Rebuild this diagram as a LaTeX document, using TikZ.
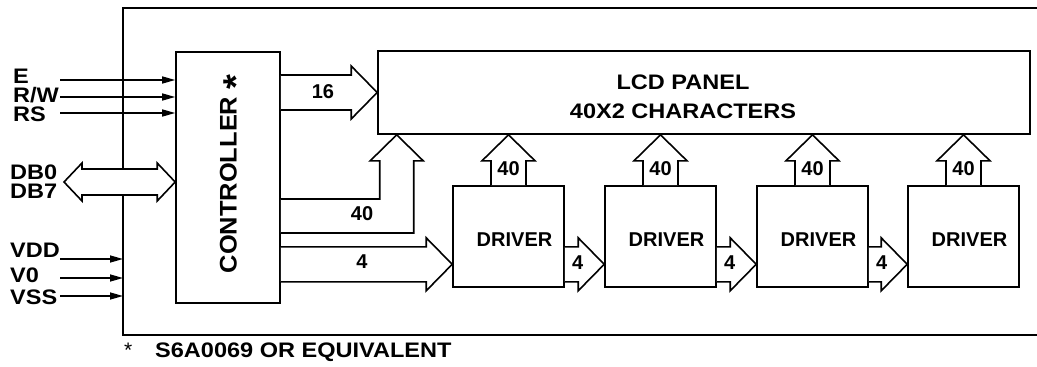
\documentclass[tikz,border=0pt]{standalone}
\usepackage{fontspec}
\setmainfont{Liberation Sans}
\usepackage{graphicx}
\usetikzlibrary{calc,arrows.meta}
\newcommand\hwide[1]{\scalebox{1.12}[1]{#1}}
\def\sw{17.5}\def\hw{26.5}\def\hl{26}
% right-pointing fat arrow: #1 start (x used), #2 apex
\newcommand\rfat[2]{\draw[fat] ($(#1 |- #2)+(0,-\sw)$) -- ($(#2)+(-\hl,-\sw)$) -- ($(#2)+(-\hl,-\hw)$) -- (#2) -- ($(#2)+(-\hl,\hw)$) -- ($(#2)+(-\hl,\sw)$) -- ($(#1 |- #2)+(0,\sw)$);}
% up-pointing fat arrow: #1 start (y used), #2 apex
\newcommand\ufat[2]{\draw[fat] ($(#2 |- #1)+(-\sw,0)$) -- ($(#2)+(-\sw,\hl)$) -- ($(#2)+(-\hw,\hl)$) -- (#2) -- ($(#2)+(\hw,\hl)$) -- ($(#2)+(\sw,\hl)$) -- ($(#2 |- #1)+(\sw,0)$);}
\begin{document}
\begin{tikzpicture}[x=1pt,y=-1pt,line join=miter,
  box/.style={draw, line width=1.6pt, inner sep=0pt, rectangle},
  fat/.style={draw, line width=1.6pt, fill=white, line join=miter},
  inarr/.style={line width=1.5pt, -{Triangle[length=13pt,width=7pt]}},
  lab/.style={inner sep=0pt, anchor=base west, font=\fontsize{21}{25}\selectfont\bfseries},
  num/.style={inner sep=0pt, font=\fontsize{20}{24}\selectfont\bfseries},
  drv/.style={box, minimum width=111pt, minimum height=101pt,
    label={[num, shift={(6,3.5)}]center:DRIVER}},
]
\useasboundingbox (0,0) rectangle (1037,367);
\clip (0,0) rectangle (1037,367);
% outer frame
\draw[line width=1.6pt] (123,8) rectangle (1060,335);
\coordinate (oleft) at (123,8);
% main blocks
\node[box, minimum width=104pt, minimum height=251pt] (ctrl) at (228,177.5) {};
\node[inner sep=0pt, rotate=90, font=\fontsize{24}{28}\selectfont\bfseries, anchor=base] (ctrltext) at (236.5,174) {\scalebox{1.06}[1]{CONTROLLER \raisebox{-0.5em}{\scalebox{1.5}{*}}}};
\node[box, minimum width=652pt, minimum height=83pt] (lcd) at (704,92.5) {};
\node[inner sep=0pt, align=center, font=\fontsize{21}{29}\selectfont\bfseries] (lcdtext) at (683,96.5) {\hwide{LCD PANEL}\\\hwide{40X2 CHARACTERS}};
\node[drv] (d1) at (508.5,236.5) {};
\node[drv] (d2) at (660.5,236.5) {};
\node[drv] (d3) at (812.5,236.5) {};
\node[drv] (d4) at (963.5,236.5) {};
% 16 bus
\coordinate (a16) at (lcd.west);
\rfat{ctrl.east}{a16}
\node[num] (n16) at (323,92) {16};
% 40 bus (L-shaped)
\coordinate (a40) at ($(lcd.south west)+(19.5,0)$);
\coordinate (b40) at ($(ctrl.east)+(0,38.5)$);
\draw[fat] ($(b40)+(0,-17)$) -- ($(a40 |- b40)+(-17,-17)$) -- ($(a40)+(-17,26)$) -- ($(a40)+(-26.5,26)$) -- (a40) -- ($(a40)+(26.5,26)$) -- ($(a40)+(17,26)$) -- ($(a40 |- b40)+(17,17)$) -- ($(b40)+(0,17)$);
\node[num] (n40) at (362,214) {40};
% 4 bus from controller
\coordinate (a4) at ($(d1.south west)+(0,-23.5)$);
\rfat{ctrl.east}{a4}
\node[num] (n4) at (362,262) {4};
% driver chain
\coordinate (a12) at ($(d2.south west)+(0,-23.5)$);
\coordinate (a23) at ($(d3.south west)+(0,-23.5)$);
\coordinate (a34) at ($(d4.south west)+(0,-23.5)$);
\rfat{d1.east}{a12}
\rfat{d2.east}{a23}
\rfat{d3.east}{a34}
\node[num] (n12) at ($(d1.east |- a12)+(13,-1.5)$) {4};
\node[num] (n23) at ($(d2.east |- a23)+(13,-1.5)$) {4};
\node[num] (n34) at ($(d3.east |- a34)+(13,-1.5)$) {4};
% driver outputs to LCD
\foreach \d in {d1,d2,d3,d4}{
  \coordinate (u\d) at (\d.north |- lcd.south);
  \ufat{\d.north}{u\d}
  \node[num] (m\d) at ($(\d.north)+(0,-17)$) {40};
}
% data bus
\coordinate (dbL) at (64,182);
\coordinate (dbR) at (ctrl.west |- dbL);
\draw[fat] (dbL) -- ($(dbL)+(18,-19)$) -- ($(dbL)+(18,-13)$) -- ($(dbR)+(-18,-13)$) -- ($(dbR)+(-18,-19)$) -- (dbR) -- ($(dbR)+(-18,19)$) -- ($(dbR)+(-18,13)$) -- ($(dbL)+(18,13)$) -- ($(dbL)+(18,19)$) -- cycle;
% control inputs
\coordinate (iE) at (60,80);
\coordinate (iRW) at (60,97);
\coordinate (iRS) at (60,113);
\draw[inarr] (iE) -- (ctrl.west |- iE);
\draw[inarr] (iRW) -- (ctrl.west |- iRW);
\draw[inarr] (iRS) -- (ctrl.west |- iRS);
\coordinate (iVDD) at (60,259);
\coordinate (iV0) at (60,278);
\coordinate (iVSS) at (60,296);
\draw[inarr] (iVDD) -- (oleft |- iVDD);
\draw[inarr] (iV0) -- (oleft |- iV0);
\draw[inarr] (iVSS) -- (oleft |- iVSS);
% labels
\node[lab] (lE) at (13,83) {\hwide{E}};
\node[lab] (lRW) at (13,102) {\hwide{R/W}};
\node[lab] (lRS) at (13,121) {\hwide{RS}};
\node[lab] (lDB0) at (10,179) {\hwide{DB0}};
\node[lab] (lDB7) at (10,198) {\hwide{DB7}};
\node[lab] (lVDD) at (10,257.5) {\hwide{VDD}};
\node[lab] (lV0) at (10,282) {\hwide{V0}};
\node[lab] (lVSS) at (10,304.5) {\hwide{VSS}};
% footnote
\node[inner sep=0pt, anchor=base west, font=\fontsize{21}{25}\selectfont] (fstar) at (124,357) {*};
\node[lab] (fnote) at (155,357) {\hwide{S6A0069 OR EQUIVALENT}};
\end{tikzpicture}
\end{document}
